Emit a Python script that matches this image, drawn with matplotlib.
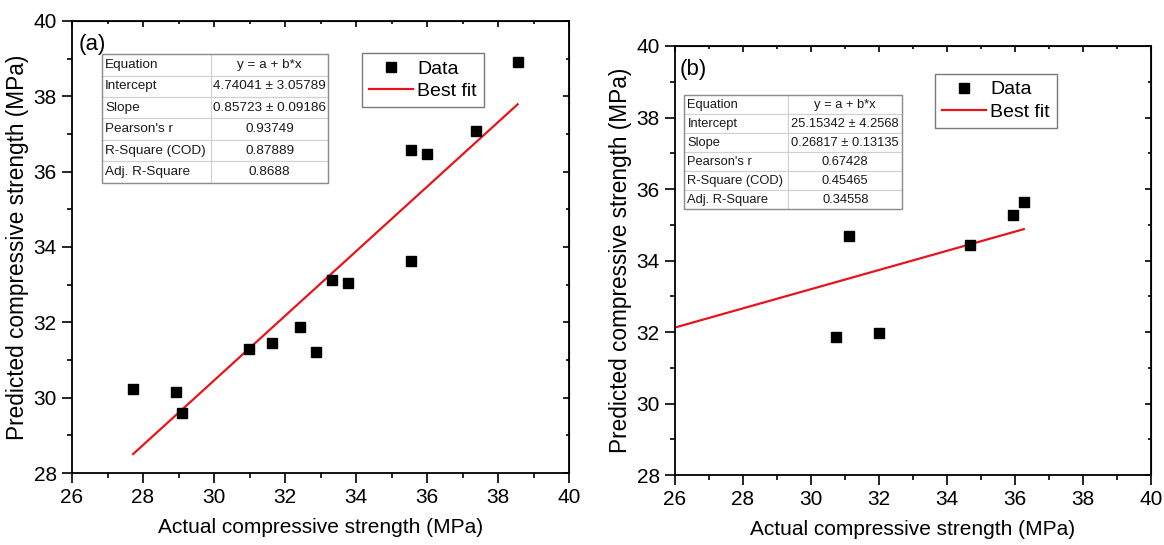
import matplotlib
import numpy as np

matplotlib.use("Agg")
import matplotlib.pyplot as plt  # noqa: E402

plt.rcParams["font.family"] = ["Liberation Sans", "DejaVu Sans"]

# panel (a) data
actual_a = [27.72, 28.94, 29.09, 30.99, 31.64, 32.42, 32.87, 33.32, 33.77, 35.56, 35.56, 35.99, 37.38, 38.55]
pred_a = [30.22, 30.16, 29.58, 31.28, 31.46, 31.87, 31.21, 33.12, 33.05, 33.63, 36.58, 36.47, 37.08, 38.92]
fit_a = (4.74041, 0.85723)  # intercept, slope
stats_a = [
    ("Equation", "y = a + b*x"),
    ("Intercept", "4.74041 ± 3.05789"),
    ("Slope", "0.85723 ± 0.09186"),
    ("Pearson's r", "0.93749"),
    ("R-Square (COD)", "0.87889"),
    ("Adj. R-Square", "0.8688"),
]

# panel (b) data
actual_b = [30.74, 31.11, 32.01, 34.67, 35.93, 36.26]
pred_b = [31.86, 34.69, 31.97, 34.42, 35.27, 35.64]
fit_b = (25.15342, 0.26817)
stats_b = [
    ("Equation", "y = a + b*x"),
    ("Intercept", "25.15342 ± 4.2568"),
    ("Slope", "0.26817 ± 0.13135"),
    ("Pearson's r", "0.67428"),
    ("R-Square (COD)", "0.45465"),
    ("Adj. R-Square", "0.34558"),
]

XLIM = (26, 40)
YLIM = (28, 40)
TICKS = np.arange(26, 41, 2)
YTICKS = np.arange(28, 41, 2)


def draw_panel(ax, x, y, fit, stats, tag, fit_x0, table_box, col0, legend_xy, tag_xy, table_fs):
    ax.plot(x, y, "s", color="black", ms=7, label="Data", zorder=3)
    xs = np.array([fit_x0, max(x)])
    ax.plot(xs, fit[0] + fit[1] * xs, color="#e8141b", lw=1.6, label="Best fit", zorder=2)

    ax.set_xlim(*XLIM)
    ax.set_ylim(*YLIM)
    ax.set_xticks(TICKS)
    ax.set_yticks(YTICKS)
    ax.set_xticks(np.arange(27, 40, 2), minor=True)
    ax.set_yticks(np.arange(29, 40, 2), minor=True)
    ax.tick_params(which="major", direction="out", length=7, width=1.2, labelsize=15, pad=4)
    ax.tick_params(which="minor", direction="out", length=3.5, width=1.2)
    for s in ax.spines.values():
        s.set_linewidth(1.3)

    # mirrored inward ticks on the top and right
    top = ax.secondary_xaxis("top")
    top.set_xticks(TICKS)
    top.set_xticks(np.arange(27, 40, 2), minor=True)
    top.tick_params(which="both", direction="in", labeltop=False, width=1.2)
    top.tick_params(which="major", length=4)
    top.tick_params(which="minor", length=2.5)
    right = ax.secondary_yaxis("right")
    right.set_yticks(YTICKS)
    right.set_yticks(np.arange(29, 40, 2), minor=True)
    right.tick_params(which="both", direction="in", labelright=False, width=1.2)
    right.tick_params(which="major", length=4)
    right.tick_params(which="minor", length=2.5)

    ax.set_xlabel("Actual compressive strength (MPa)", fontsize=15, labelpad=8)
    ax.set_ylabel("Predicted compressive strength (MPa)", fontsize=16.3, labelpad=3)

    ax.text(tag_xy[0], tag_xy[1], tag, transform=ax.transAxes, fontsize=16, va="center", ha="left")

    # fit statistics box
    tbl = ax.table(cellText=[list(r) for r in stats], bbox=table_box,
                   colWidths=[col0, 1 - col0], zorder=4)
    tbl.auto_set_font_size(False)
    for (r, c), cell in tbl.get_celld().items():
        cell.set_edgecolor("#d0d0d0")
        cell.set_linewidth(0.8)
        cell.set_facecolor("white")
        txt = cell.get_text()
        txt.set_fontsize(table_fs)
        txt.set_color("#1a1a1a")
        if c == 0:
            txt.set_ha("left")
            cell.PAD = 0.03
        else:
            txt.set_ha("center")
    ax.add_patch(plt.Rectangle((table_box[0], table_box[1]), table_box[2], table_box[3],
                               transform=ax.transAxes, fill=False, ec="#8c8c8c", lw=1.0, zorder=5))

    leg = ax.legend(loc="upper left", bbox_to_anchor=legend_xy, fontsize=14, frameon=True,
                    fancybox=False, edgecolor="#7a7a7a", framealpha=1, handlelength=2.3,
                    handletextpad=0.2, labelspacing=0.25, borderpad=0.35, borderaxespad=0)
    leg.get_frame().set_linewidth(1.0)


fig = plt.figure(figsize=(11.64, 5.45), dpi=100)
ax_a = fig.add_axes([0.0619, 0.1321, 0.4270, 0.8294])
ax_b = fig.add_axes([0.5799, 0.1284, 0.4089, 0.7872])

draw_panel(ax_a, actual_a, pred_a, fit_a, stats_a, "(a)", min(actual_a),
           [0.0598, 0.6423, 0.456, 0.284], 0.481, (0.583, 0.9285), (0.013, 0.949), 9.7)
draw_panel(ax_b, actual_b, pred_b, fit_b, stats_b, "(b)", XLIM[0],
           [0.0195, 0.620, 0.458, 0.2657], 0.477, (0.546, 0.9347), (0.0105, 0.946), 9.3)

fig.savefig("out.png", dpi=100)
